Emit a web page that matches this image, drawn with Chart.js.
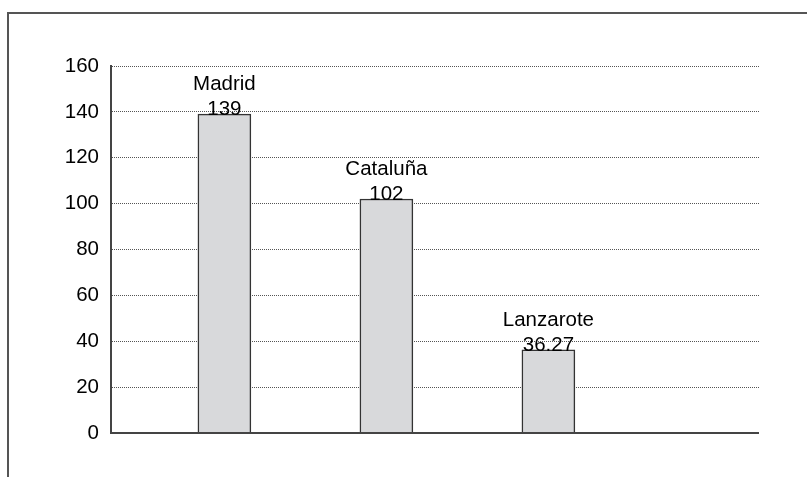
<!DOCTYPE html>
<html>
<head>
<meta charset="utf-8">
<script src="https://cdn.jsdelivr.net/npm/chart.js@4"></script>
<style>
  html, body { margin: 0; padding: 0; background: #fff; }
  #wrap { width: 807px; height: 477px; position: relative; }
</style>
</head>
<body>
<div id="wrap"><canvas id="c"></canvas></div>
<script>
// data
const categories = ['Madrid', 'Cataluña', 'Lanzarote'];
const positions = [1, 2, 3];
const values = [139, 102, 36.27];
const valueLabels = ['139', '102', '36.27'];
const yTicks = [0, 20, 40, 60, 80, 100, 120, 140, 160];

const FONT = '"Liberation Sans", Arial, Helvetica, sans-serif';

// outer frame + axis lines
const framePlugin = {
    id: 'frame',
    beforeDraw(chart) {
        const ctx = chart.ctx;
        ctx.save();
        ctx.strokeStyle = '#555';
        ctx.lineWidth = 2;
        ctx.beginPath();
        ctx.moveTo(8, 477);
        ctx.lineTo(8, 13);
        ctx.lineTo(807, 13);
        ctx.stroke();
        ctx.restore();
    },
    afterDatasetsDraw(chart) {
        const ctx = chart.ctx;
        const a = chart.chartArea;
        const y0 = chart.scales.y.getPixelForValue(0);
        ctx.save();
        ctx.strokeStyle = '#444';
        ctx.lineWidth = 2;
        ctx.beginPath();
        ctx.moveTo(a.left, y0);
        ctx.lineTo(a.right, y0);
        ctx.stroke();
        ctx.restore();
    }
};

// name + value above each bar
const barLabels = {
    id: 'barLabels',
    afterDatasetsDraw(chart) {
        const ctx = chart.ctx;
        const meta = chart.getDatasetMeta(0);
        ctx.save();
        ctx.fillStyle = '#000';
        ctx.font = '20.5px ' + FONT;
        ctx.textAlign = 'center';
        ctx.textBaseline = 'alphabetic';
        meta.data.forEach((bar, i) => {
            ctx.fillText(categories[i], bar.x, bar.y - 24);
            ctx.fillText(valueLabels[i], bar.x, bar.y + 1);
        });
        ctx.restore();
    }
};

new Chart(document.getElementById('c'), {
    type: 'bar',
    data: {
        datasets: [{
            data: positions.map((x, i) => ({ x: x, y: values[i] })),
            backgroundColor: '#d8d9db',
            borderColor: '#333',
            borderWidth: 1.5,
            barThickness: 53
        }]
    },
    options: {
        responsive: true,
        maintainAspectRatio: false,
        animation: false,
        layout: { padding: { left: 0, top: 66, right: 48, bottom: 44 } },
        plugins: { legend: { display: false }, tooltip: { enabled: false } },
        scales: {
            x: {
                type: 'linear',
                display: false,
                offset: false,
                min: 0.3,
                max: 4.3
            },
            y: {
                min: 0,
                max: 160,
                afterFit(scale) { scale.width = 111; },
                afterBuildTicks(scale) { scale.ticks = yTicks.map(v => ({ value: v })); },
                ticks: {
                    color: '#000',
                    padding: 12,
                    font: { family: FONT, size: 20.5 }
                },
                grid: {
                    color: ctx => ctx.tick && ctx.tick.value === 0 ? 'rgba(0,0,0,0)' : '#555',
                    lineWidth: 1,
                    drawTicks: false
                },
                border: { display: true, color: '#444', width: 2, dash: [1, 1] }
            }
        }
    },
    plugins: [framePlugin, barLabels]
});
</script>
</body>
</html>
